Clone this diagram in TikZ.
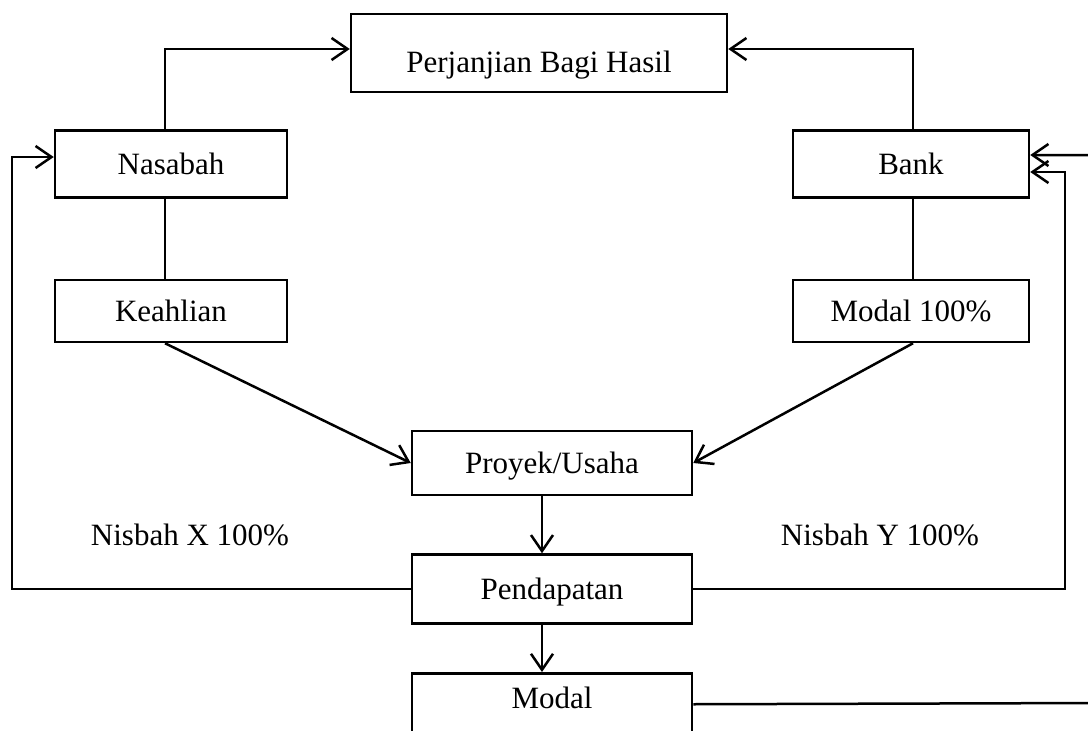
\documentclass[tikz,border=0pt]{standalone}
\usepackage{fontspec}
\setmainfont{Liberation Serif}
\usetikzlibrary{arrows.meta}
\begin{document}
\begin{tikzpicture}[x=1pt,y=-1pt,
  every node/.style={font=\fontsize{31}{37}\selectfont, text height=25pt, text depth=4.3pt},
  box/.style={draw, line width=2.5pt, inner sep=0pt},
  ln/.style={line width=2.5pt},
  arr/.style={line width=2.5pt, -{Straight Barb[length=16pt,width=22pt,line width=2.5pt]}}]
\useasboundingbox (0,0) rectangle (1088,731);
\node[box, minimum width=376pt, minimum height=78pt, text height=40pt, text depth=2pt] (perj) at (539,53) {Perjanjian Bagi Hasil};
\node[box, minimum width=232pt, minimum height=67pt] (nas) at (171,164) {Nasabah};
\node[box, minimum width=236pt, minimum height=67pt] (bank) at (911,164) {Bank};
\node[box, minimum width=232pt, minimum height=62pt] (keah) at (171,311) {Keahlian};
\node[box, minimum width=236pt, minimum height=62pt] (mod) at (911,311) {Modal 100\%};
\node[box, minimum width=280pt, minimum height=64pt] (proy) at (552,463) {Proyek/Usaha};
\node[box, minimum width=280pt, minimum height=69pt] (pend) at (552,589) {Pendapatan};
\node[box, minimum width=280pt, minimum height=70pt, anchor=north, text height=0pt, text depth=0pt] (modal) at (552,672) {\smash{Modal}};
\node (nx) at (190,535) {Nisbah X 100\%};
\node (ny) at (880,535) {Nisbah Y 100\%};
% top connections
\draw[arr] ([xshift=-6pt]nas.north) |- ([yshift=4pt]perj.west);
\draw[arr] ([xshift=2pt]bank.north) |- ([yshift=4pt]perj.east);
% vertical links
\draw[ln] ([xshift=-6pt]nas.south) -- ([xshift=-6pt]keah.north);
\draw[ln] ([xshift=2pt]bank.south) -- ([xshift=2pt]mod.north);
% diagonals
\draw[arr] ([xshift=-6pt]keah.south) -- (proy.west);
\draw[arr] ([xshift=2pt]mod.south) -- (proy.east);
% vertical arrows
\draw[arr] ([xshift=-10pt]proy.south) -- ([xshift=-10pt]pend.north);
\draw[arr] ([xshift=-10pt]pend.south) -- ([xshift=-10pt]modal.north);
% feedback loops
\coordinate (lx) at (12,0);
\coordinate (rx) at (1065,0);
\coordinate (ex) at (1100,0);
\draw[arr] (pend.west) -- (lx |- pend.west) -- (lx |- 0,157) -- ([yshift=7pt]nas.west);
\draw[arr] (pend.east) -- (rx |- pend.east) -- (rx |- 0,172) -- ([yshift=-8pt]bank.east);
\draw[arr] ([yshift=4pt]modal.east) -- (ex |- 0,703) -- (ex |- 0,155) -- ([yshift=9pt]bank.east);
\end{tikzpicture}
\end{document}
